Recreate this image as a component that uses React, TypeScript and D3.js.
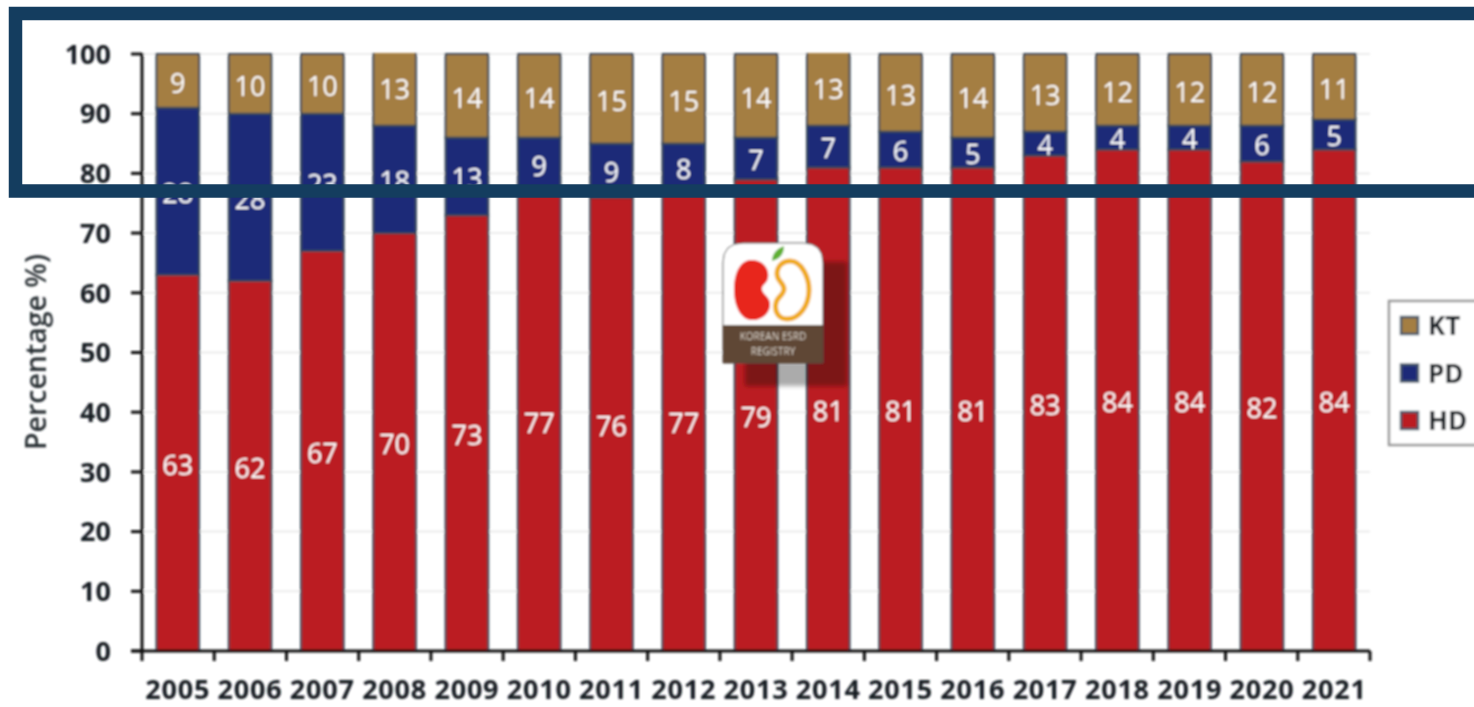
import React from "react";
import * as d3 from "d3";

const years = ["2005","2006","2007","2008","2009","2010","2011","2012","2013","2014","2015","2016","2017","2018","2019","2020","2021"];
const hdValues = [63,62,67,70,73,77,76,77,79,81,81,81,83,84,84,82,84];
const pdValues = [28,28,23,18,13,9,9,8,7,7,6,5,4,4,4,6,5];
const ktValues = [9,10,10,13,14,14,15,15,14,13,13,14,13,12,12,12,11];
const seriesNames = ["HD","PD","KT"];
const seriesColors: Record<string,string> = { HD: "#bb1c21", PD: "#1c2a78", KT: "#a47e43" };
const legendOrder = ["KT","PD","HD"];
const yTicks = d3.range(0, 101, 10);

const W = 1474, H = 707;
const left = 142, right = 1370, top = 54, bottom = 651;
const font = "'Open Sans', sans-serif";
const ink = "#161c23";

export default function App() {
  const x = d3.scaleBand<string>().domain(years).range([left, right]).paddingInner(0.41).paddingOuter(0.2);
  const band = (right - left) / years.length;
  const y = d3.scaleLinear().domain([0, 100]).range([bottom, top]);
  const rows = years.map((yr, i) => ({ year: yr, HD: hdValues[i], PD: pdValues[i], KT: ktValues[i] }));
  const stacked = d3.stack<any>().keys(seriesNames)(rows);
  return (
    <svg width={W} height={H} style={{ position: "absolute", left: 0, top: 0, background: "#fff" }}>
      <defs>
        <filter id="soft" x="-2%" y="-2%" width="104%" height="104%">
          <feGaussianBlur stdDeviation="0.85" />
        </filter>
        <filter id="shadowBlur"><feGaussianBlur stdDeviation="2" /></filter>
        <clipPath id="plot"><rect x={left - 4} y={top - 1} width={right - left + 8} height={bottom - top + 1} /></clipPath>
      </defs>
      <g filter="url(#soft)">
        {yTicks.filter(t => t > 0).map(t => (
          <line key={t} x1={left} x2={right} y1={y(t)} y2={y(t)} stroke="#ececec" strokeWidth={2} />
        ))}
        <g clipPath="url(#plot)">
          {stacked.map(s => s.map((d, i) => (
            <rect key={s.key + i} x={x(years[i])} width={x.bandwidth()} y={y(d[1])} height={y(d[0]) - y(d[1])}
              fill={seriesColors[s.key]} stroke="#3a4a58" strokeWidth={2} />
          )))}
        </g>
        {stacked.map(s => s.map((d, i) => (
          <text key={"l" + s.key + i} x={x(years[i])! + x.bandwidth() / 2} y={y((d[0] + d[1]) / 2)} dy="0.44em"
            textAnchor="middle" fontFamily={font} fontSize={27} fontWeight={500} fill="#fff">
            {d[1] - d[0]}
          </text>
        )))}
        <line x1={left} x2={left} y1={top - 1} y2={bottom + 10} stroke="#111" strokeWidth={3} />
        <line x1={left - 11} x2={right} y1={bottom} y2={bottom} stroke="#111" strokeWidth={3} />
        {yTicks.map(t => (
          <g key={t}>
            <line x1={left - 11} x2={left} y1={y(t)} y2={y(t)} stroke="#111" strokeWidth={3} />
            <text x={111} y={y(t)} dy="0.36em" textAnchor="end" fontFamily={font} fontSize={27} fontWeight={700} fill={ink}>{t}</text>
          </g>
        ))}
        {d3.range(1, years.length + 1).map(i => (
          <line key={i} x1={left + i * band} x2={left + i * band} y1={bottom} y2={bottom + 10} stroke="#111" strokeWidth={3} />
        ))}
        {years.map(yr => (
          <text key={yr} x={x(yr)! + x.bandwidth() / 2} y={699} textAnchor="middle" fontFamily={font} fontSize={27} letterSpacing={0.8} fontWeight={700} fill={ink}>{yr}</text>
        ))}
        <text transform="translate(46,352) rotate(-90)" textAnchor="middle" fontFamily={font} fontSize={28.5} fontWeight={600} fill="#2a3036">Percentage %)</text>

        <rect x={1389} y={301} width={100} height={144} fill="#fff" stroke="#999" strokeWidth={2.5} />
        {legendOrder.map((name, i) => (
          <g key={name}>
            <rect x={1401} y={317 + i * 47.5} width={17} height={17} fill={seriesColors[name]} stroke="#46586a" strokeWidth={2.5} />
            <text x={1428} y={326 + i * 47.5} dy="0.36em" fontFamily={font} fontSize={26} fontWeight={700} fill={ink}>{name}</text>
          </g>
        ))}

        {/* registry logo */}
        <g>
          <rect x={745} y={262} width={102} height={124} fill="#000" opacity={0.33} filter="url(#shadowBlur)" />
          <path d="M743,243 H803 Q823,243 823,263 V363 H723 V263 Q723,243 743,243 Z" fill="#fff" stroke="#555" strokeWidth={1} />
          <path d="M723,325 H823 V363 H723 Z" fill="#5e4636" />
          <path d="M750,260 C762,259 770,268 768,278 C767,284 762,284 762,289 C762,294 769,296 770,303 C771,314 760,321 751,320 C740,319 734,305 734,290 C734,273 740,261 750,260 Z" fill="#e8261f" />
          <path d="M790,261 C802,261 809,278 809,290 C809,306 799,319 787,319 C779,319 774,312 776,303 C777,297 784,295 784,289 C784,283 777,281 777,274 C777,266 783,261 790,261 Z" fill="none" stroke="#f0aa1e" strokeWidth={5} />
          <path d="M772,261 C772,253 778,248 784,246 C784,254 780,259 772,261 Z" fill="#5fb030" />
          <text x={773} y={340} textAnchor="middle" fontFamily={font} fontSize={10} fill="#d9d2c8">KOREAN ESRD</text>
          <text x={773} y={355} textAnchor="middle" fontFamily={font} fontSize={10} fill="#d9d2c8">REGISTRY</text>
        </g>
      </g>
      <path d="M1474,13.5 H15.5 V191 H1474" fill="none" stroke="#143d5f" strokeWidth={13.5} />
    </svg>
  );
}
